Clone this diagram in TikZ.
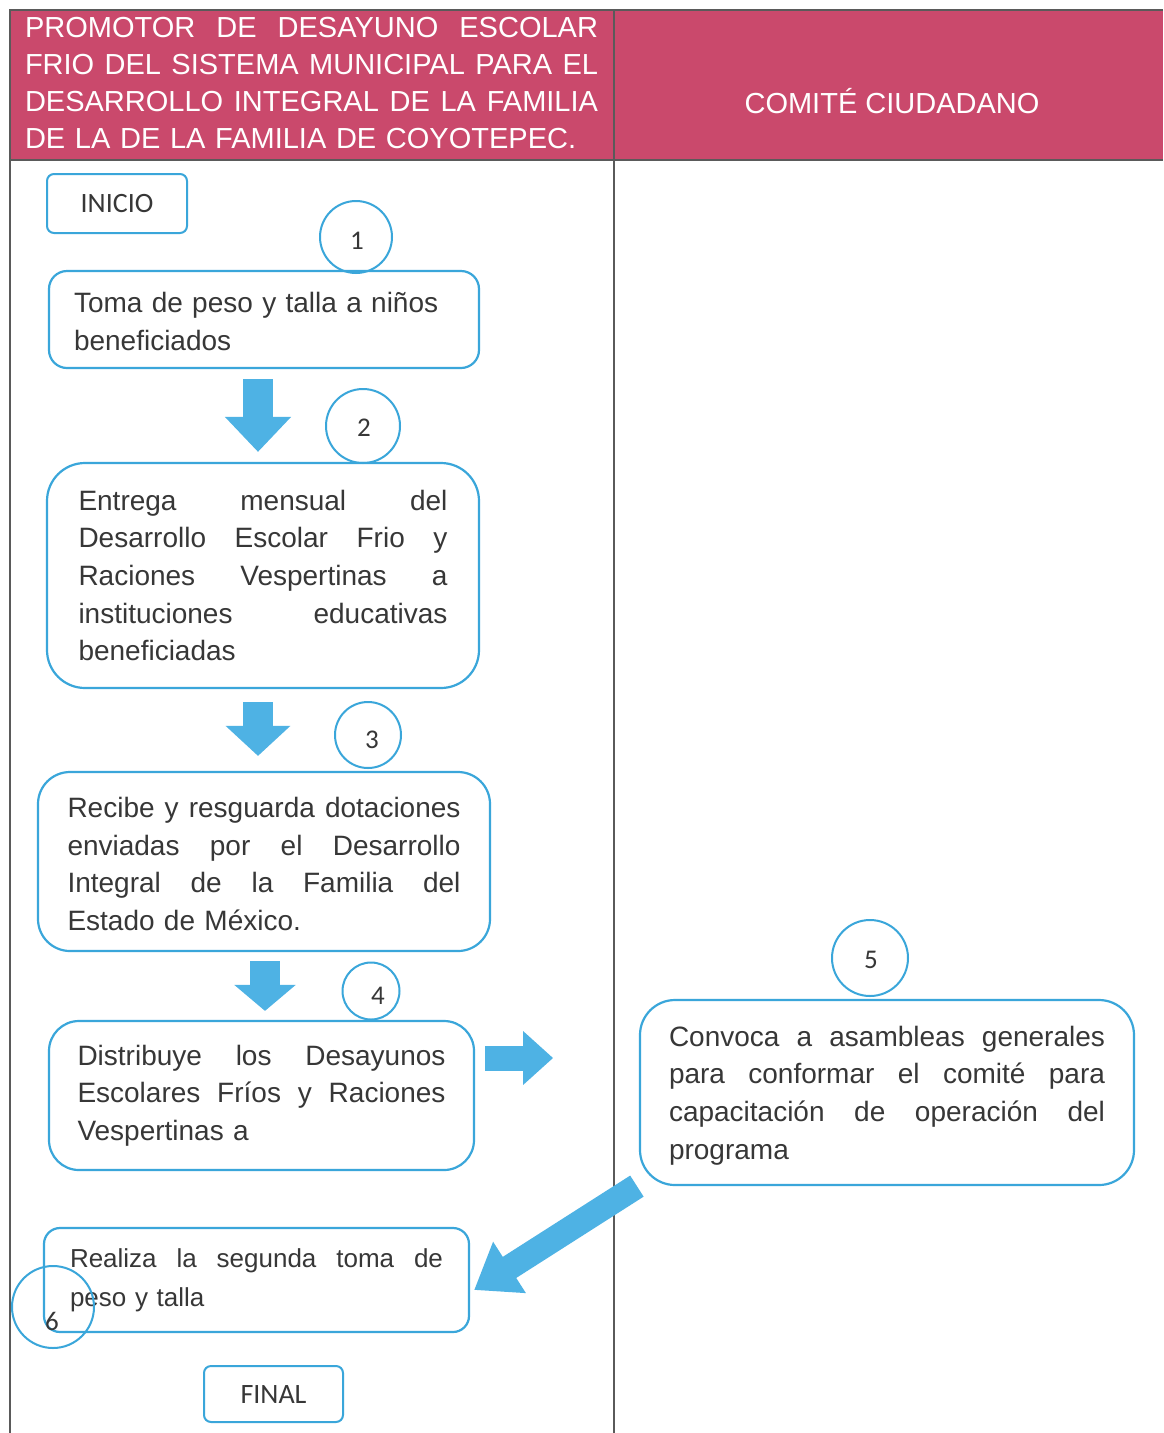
\documentclass[tikz,border=0pt]{standalone}
\usepackage{fontspec}
\setmainfont{Liberation Sans}
\newfontfamily\calib{Carlito}
\usetikzlibrary{arrows.meta,calc}
\definecolor{hdr}{RGB}{202,73,108}
\definecolor{bl}{RGB}{58,166,218}
\definecolor{afill}{RGB}{78,178,228}
\definecolor{txt}{RGB}{55,55,55}
\definecolor{rulec}{RGB}{90,90,90}
\newcommand{\jl}[2]{\leavevmode\hbox to #1{\spaceskip=0.278em plus 1fil minus 0.1em\relax #2}}
\begin{document}
\begin{tikzpicture}[x=1pt,y=-1pt,
  procbox/.style={draw=bl, line width=2.2pt, text=txt, font=\fontsize{28}{37.6}\selectfont, align=left, inner sep=0pt},
  termbox/.style={draw=bl, line width=2pt, rounded corners=7pt, text=txt, font=\calib\fontsize{28}{30}\selectfont, inner sep=0pt},
  numcirc/.style={draw=bl, line width=2pt, circle, inner sep=0pt},
  numtext/.style={text=txt, font=\calib\fontsize{27}{30}\selectfont},
  blockarrow/.style={afill, line width=#1},
  hdrtext/.style={text=white, font=\fontsize{29}{37}\selectfont, inner sep=0pt}
]
\useasboundingbox (0,0) rectangle (1163,1433);
\fill[white] (0,0) rectangle (1163,1433);
% header band
\fill[hdr] (10,10) rectangle (1163,160);
\draw[rulec, line width=1.5pt] (1163,10) -- (10,10) -- (10,1433);
\draw[rulec, line width=1.5pt] (614,10) -- (614,1433);
\draw[rulec, line width=1.5pt] (10,160) -- (1163,160);
\node[hdrtext, text width=573pt, align=left] (hl) at (311.5,83) {%
\jl{573pt}{PROMOTOR DE DESAYUNO ESCOLAR}\\
\jl{573pt}{FRIO DEL SISTEMA MUNICIPAL PARA EL}\\
\jl{573pt}{DESARROLLO INTEGRAL DE LA FAMILIA}\\
DE LA DE LA FAMILIA DE COYOTEPEC.};
\node[hdrtext] (hr) at (892,101) {COMITÉ CIUDADANO};

% terminals
\node[termbox, minimum width=140pt, minimum height=59pt] (inicio) at (117,203.5) {INICIO};
\node[termbox, minimum width=139pt, minimum height=56pt] (final) at (273.5,1394) {FINAL};

% process boxes
\node[procbox, rounded corners=18pt, minimum width=430pt, minimum height=97pt, text width=380pt] (b1) at (264,319.5) {%
\rule{0pt}{24pt}Toma de peso y talla a niños\\
beneficiados};

\node[procbox, rounded corners=38pt, minimum width=432pt, minimum height=225pt, text width=369pt] (b2) at (263,575.5) {%
\jl{369pt}{Entrega mensual del}\\
\jl{369pt}{Desarrollo Escolar Frio y}\\
\jl{369pt}{Raciones Vespertinas a}\\
\jl{369pt}{instituciones educativas}\\
beneficiadas};

\node[procbox, rounded corners=32pt, minimum width=452pt, minimum height=179pt, text width=393pt] (b3) at (264,861.5) {%
\rule{0pt}{25pt}\jl{393pt}{Recibe y resguarda dotaciones}\\
\jl{393pt}{enviadas por el Desarrollo}\\
\jl{393pt}{Integral de la Familia del}\\
Estado de México.};

\node[procbox, rounded corners=30pt, minimum width=425pt, minimum height=149pt, text width=368pt] (b4) at (261.5,1095.5) {%
\jl{368pt}{Distribuye los Desayunos}\\
\jl{368pt}{Escolares Fríos y Raciones}\\
Vespertinas a};

\node[procbox, rounded corners=35pt, minimum width=494pt, minimum height=185pt, text width=436pt] (b5) at (887,1092.5) {%
\rule{0pt}{26pt}\jl{436pt}{Convoca a asambleas generales}\\
\jl{436pt}{para conformar el comité para}\\
\jl{436pt}{capacitación de operación del}\\
programa};

\node[procbox, rounded corners=16pt, minimum width=425pt, minimum height=104pt, text width=373pt, font=\fontsize{26}{39}\selectfont] (b6) at (256.5,1280) {%
\jl{373pt}{Realiza la segunda toma de}\\
peso y talla};

% number circles
\node[numcirc, minimum size=72pt] (c1) at (356,237) {};
\node[numtext] (n1) at (357,241) {1};
\node[numcirc, minimum size=74pt] (c2) at (363,426) {};
\node[numtext] (n2) at (364,428) {2};
\node[numcirc, minimum size=66pt] (c3) at (368,735) {};
\node[numtext] (n3) at (372,740) {3};
\node[numcirc, minimum size=57pt] (c4) at (371,991) {};
\node[numtext] (n4) at (378,996) {4};
\node[numcirc, minimum size=76pt] (c5) at (870,958) {};
\node[numtext] (n5) at (871,960) {5};
\node[numcirc, minimum size=82pt] (c6) at (53,1307) {};
\node[numtext] (n6) at (52,1321) {6};

% block arrows
\draw[blockarrow=30pt, -{Triangle[length=35pt,width=64pt]}] ($(b1.south)+(-6,10)$) -- ($(b2.north)+(-5,-10)$);
\draw[blockarrow=30pt, -{Triangle[length=30pt,width=63pt]}] ($(b2.south)+(-5,13)$) -- ($(b3.north)+(-6,-15)$);
\draw[blockarrow=30pt, -{Triangle[length=26pt,width=60pt]}] ($(b3.south)+(1,9)$) -- ($(b4.north)+(3.5,-9)$);
\draw[blockarrow=25pt, -{Triangle[length=30pt,width=52pt]}] ($(b4.east)+(10,-37.5)$) -- ($(b4.east)+(78,-37.5)$);
\draw[blockarrow=25pt, -{Triangle[length=42pt,width=58pt]}] ($(b5.south west)+(-2,0)$) -- ($(b6.east)+(4,10)$);
\end{tikzpicture}
\end{document}
